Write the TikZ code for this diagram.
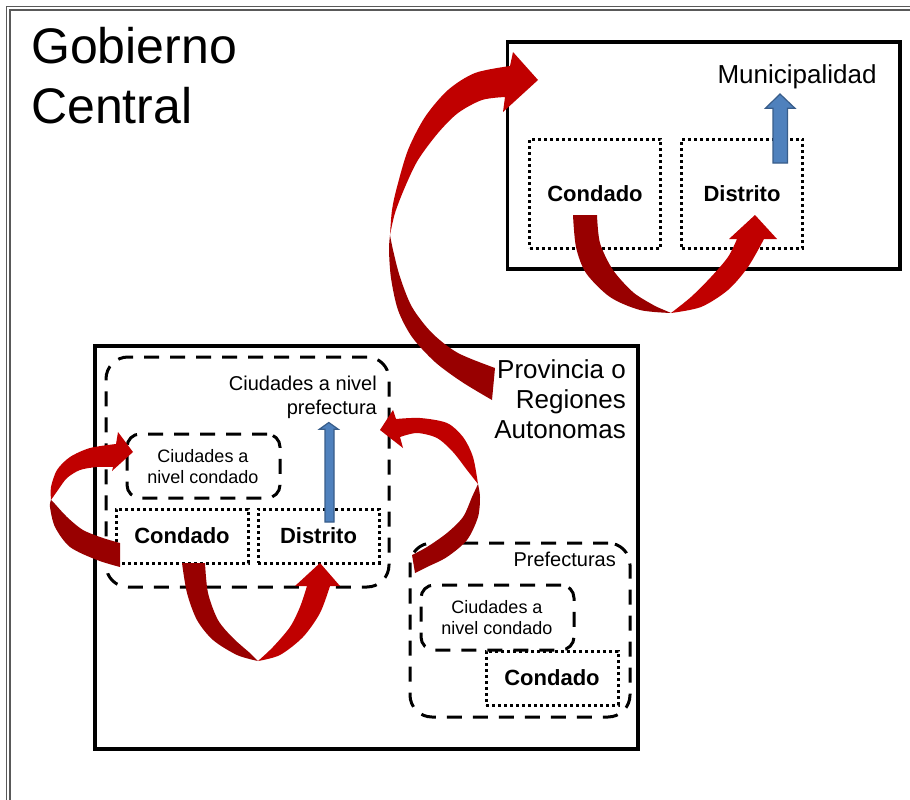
\documentclass[tikz,border=0pt]{standalone}
\usepackage{fontspec}
\setmainfont{Liberation Sans}
\definecolor{arrbright}{RGB}{192,0,0}
\definecolor{arrdark}{RGB}{152,0,0}
\definecolor{bluefill}{RGB}{79,129,189}
\definecolor{blueline}{RGB}{56,93,138}
\begin{document}
\begin{tikzpicture}[x=1pt,y=-1pt,
  solidbox/.style={draw=black, line width=3.5pt, inner sep=0pt},
  dashbox/.style={draw=black, line width=3pt, dash pattern=on 15pt off 11pt, inner sep=0pt},
  dotbox/.style={draw=black, line width=3pt, dash pattern=on 3pt off 3pt, inner sep=0pt,
     font=\bfseries\fontsize{22}{26}\selectfont},
  txt/.style={inner sep=0pt, text=black},
  bluearrow/.style={fill=bluefill, draw=blueline, line width=1.2pt, line join=miter},
  darkpart/.style={fill=arrdark},
  brightpart/.style={fill=arrbright}
]
\useasboundingbox (0,0) rectangle (910,800);
\clip (0,0) rectangle (910,800);
\fill[white] (0,0) rectangle (910,800);
% outer frame
\draw[gray!70!black, line width=1.3pt] (6.5,6.5) rectangle (930,830);
\draw[gray!70!black, line width=1.3pt] (10,10) rectangle (930,830);

% title
\node[txt, anchor=base west, font=\fontsize{50}{60}\selectfont] (gob1) at (31,63.5) {Gobierno};
\node[txt, anchor=base west, font=\fontsize{50}{60}\selectfont] (gob2) at (31,123.5) {Central};

% top right block
\node[solidbox, minimum width=392.5pt, minimum height=227pt] (muni) at (703.75,155.5) {};
\node[dotbox, minimum width=131pt, minimum height=109pt] (condTR) at (595,193.5) {Condado};
\node[dotbox, minimum width=121pt, minimum height=109pt] (distTR) at (742,193.5) {Distrito};
\node[txt, anchor=base, font=\fontsize{26}{30}\selectfont] (munitxt) at (797,83) {Municipalidad};

% bottom left block
\node[solidbox, minimum width=543pt, minimum height=403pt] (prov) at (366.5,547.5) {};
\node[txt, anchor=base east, font=\fontsize{26}{30}\selectfont] (prov1) at (626,378) {Provincia o};
\node[txt, anchor=base east, font=\fontsize{26}{30}\selectfont] (prov2) at (626,408) {Regiones};
\node[txt, anchor=base east, font=\fontsize{26}{30}\selectfont] (prov3) at (626,438) {Autonomas};

\node[dashbox, rounded corners=22pt, minimum width=283pt, minimum height=230pt] (cpref) at (247.5,472) {};
\node[txt, anchor=base east, font=\fontsize{20}{24}\selectfont] (cpref1) at (377,390) {Ciudades a nivel};
\node[txt, anchor=base east, font=\fontsize{20}{24}\selectfont] (cpref2) at (377,414) {prefectura};

\node[dashbox, rounded corners=13pt, minimum width=153pt, minimum height=64pt] (ccondBL) at (203.5,466) {};
\node[txt, anchor=base, font=\fontsize{18}{21}\selectfont] (ccondBL1) at (203,462) {Ciudades a};
\node[txt, anchor=base, font=\fontsize{18}{21}\selectfont] (ccondBL2) at (203,483) {nivel condado};

\node[dotbox, minimum width=132pt, minimum height=54pt] (condBL) at (182,536) {Condado};
\node[dotbox, minimum width=121pt, minimum height=54pt] (distBL) at (318.5,536) {Distrito};

% prefecturas block
\node[dashbox, rounded corners=22pt, minimum width=220pt, minimum height=174pt] (pref) at (520,630) {};
\node[txt, anchor=base east, font=\fontsize{20}{24}\selectfont] (preftxt) at (616,566) {Prefecturas};
\node[dashbox, rounded corners=13pt, minimum width=153pt, minimum height=65pt] (ccondP) at (497.5,617.5) {};
\node[txt, anchor=base, font=\fontsize{18}{21}\selectfont] (ccondP1) at (497,613) {Ciudades a};
\node[txt, anchor=base, font=\fontsize{18}{21}\selectfont] (ccondP2) at (497,634) {nivel condado};
\node[dotbox, minimum width=132pt, minimum height=54pt] (condP) at (552,678) {Condado};

% blue arrows
\filldraw[bluearrow] (773,163) -- (773,108.3) -- (765.4,108.3) -- (780,94) -- (795,108.3) -- (787.4,108.3) -- (787.4,163) -- cycle;
\filldraw[bluearrow] (325,522) -- (325,429.3) -- (319.3,429.3) -- (328.8,422.5) -- (338.3,429.3) -- (334,429.3) -- (334,522) -- cycle;

% big arrow: provincia -> municipalidad
\fill[darkpart] plot[smooth] coordinates {(390,235) (389,250) (391,278) (398,310) (412,337) (435,362) (462,382) (492,400)}
  -- plot[smooth] coordinates {(495,368) (458,353) (432,333) (412,307) (400,277) (393,250) (390,235)} -- cycle;
\fill[brightpart] plot[smooth] coordinates {(390,235) (392,210) (397,187) (408,150) (425,117) (448,90) (475,73) (510,66)}
  -- (513,52) -- (538,80) -- (503,112)
  -- plot[smooth] coordinates {(505,97) (482,100) (458,113) (438,133) (418,160) (405,187) (395,213) (390,235)} -- cycle;

% top right U arrow
\fill[darkpart] plot[smooth] coordinates {(573,215) (576,247) (586,273) (610,297) (640,310) (671,313)}
  -- plot[smooth] coordinates {(657,307) (634,293) (613,270) (600,243) (597,215)} -- cycle;
\fill[brightpart] plot[smooth] coordinates {(671,313) (701,307) (728,290) (748,267) (764,239)}
  -- (777,239) -- (755,215) -- (729,239)
  -- plot[smooth] coordinates {(737,239) (728,257) (711,277) (691,297) (671,313)} -- cycle;

% left loop arrow
\fill[darkpart] plot[smooth] coordinates {(51,500) (50,507) (55,527) (70,547) (97,560) (120,567)}
  -- plot[smooth] coordinates {(120,543) (103,538) (83,530) (67,517) (55,504) (51,500)} -- cycle;
\fill[brightpart] plot[smooth] coordinates {(51,500) (51,487) (57,470) (70,457) (90,448) (116,444)}
  -- (118,432) -- (133,452) -- (112,471)
  -- plot[smooth] coordinates {(113,467) (97,467) (80,470) (67,478) (58,490) (51,500)} -- cycle;

% bottom U arrow
\fill[darkpart] plot[smooth] coordinates {(182,563) (187,593) (197,620) (213,640) (237,655) (258,661)}
  -- plot[smooth] coordinates {(250,653) (233,638) (218,620) (208,593) (205,563)} -- cycle;
\fill[brightpart] plot[smooth] coordinates {(258,661) (280,655) (303,637) (320,613) (330,586)}
  -- (340,586) -- (320,563) -- (295,586)
  -- plot[smooth] coordinates {(307,586) (300,607) (290,627) (273,647) (258,661)} -- cycle;

% right loop arrow (prefecturas -> ciudades a nivel prefectura)
\fill[darkpart] plot[smooth] coordinates {(478,484) (480,497) (478,517) (467,540) (447,557) (427,567) (415,573)}
  -- plot[smooth] coordinates {(412,555) (427,547) (447,533) (463,517) (472,497) (478,484)} -- cycle;
\fill[brightpart] plot[smooth] coordinates {(478,484) (473,457) (463,437) (447,423) (420,418) (396,419)}
  -- (393,410) -- (380,430) -- (403,448)
  -- plot[smooth] coordinates {(400,437) (417,433) (437,438) (453,452) (467,470) (478,484)} -- cycle;
\end{tikzpicture}
\end{document}
